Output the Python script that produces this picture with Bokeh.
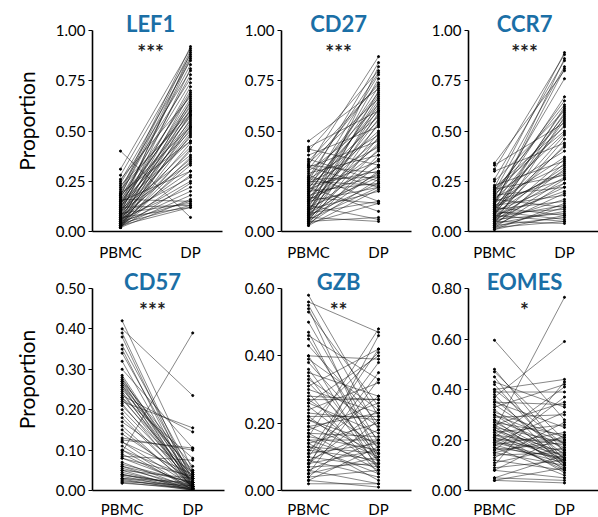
from bokeh.plotting import figure
from bokeh.layouts import gridplot
from bokeh.models import Range1d, FixedTicker, Label, NumeralTickFormatter
from bokeh.embed import file_html
from bokeh.resources import INLINE

groups = ["PBMC", "DP"]

lef1_pbmc = [0.40, 0.31, 0.28, 0.25, 0.24, 0.22, 0.20, 0.19, 0.18, 0.18, 0.17, 0.17, 0.16, 0.16, 0.15, 0.15,
             0.14, 0.14, 0.13, 0.13, 0.12, 0.12, 0.12, 0.11, 0.11, 0.10, 0.10, 0.10, 0.09, 0.09, 0.09, 0.09,
             0.08, 0.08, 0.08, 0.07, 0.07, 0.07, 0.07, 0.06, 0.06, 0.06, 0.06, 0.05, 0.05, 0.05, 0.05, 0.05,
             0.04, 0.04, 0.04, 0.04, 0.04, 0.03, 0.03, 0.03, 0.03, 0.03, 0.03, 0.02, 0.02, 0.02, 0.02, 0.02,
             0.21, 0.19, 0.23, 0.26, 0.11, 0.13, 0.15, 0.18]
lef1_dp = [0.07, 0.91, 0.88, 0.85, 0.80, 0.76, 0.92, 0.90, 0.87, 0.83, 0.74, 0.68, 0.62, 0.15, 0.78, 0.57,
           0.64, 0.50, 0.70, 0.45, 0.66, 0.55, 0.13, 0.60, 0.38, 0.72, 0.52, 0.34, 0.81, 0.63, 0.47, 0.14,
           0.58, 0.42, 0.27, 0.69, 0.54, 0.36, 0.12, 0.61, 0.49, 0.30, 0.22, 0.65, 0.51, 0.40, 0.25, 0.15,
           0.59, 0.44, 0.33, 0.20, 0.13, 0.56, 0.48, 0.37, 0.28, 0.18, 0.12, 0.53, 0.41, 0.24, 0.16, 0.35,
           0.60, 0.45, 0.58, 0.67, 0.89, 0.86, 0.30, 0.52]

cd27_pbmc = [0.45, 0.42, 0.41, 0.40, 0.38, 0.36, 0.34, 0.33, 0.33, 0.32, 0.32, 0.31, 0.30, 0.29, 0.28, 0.27,
             0.26, 0.26, 0.25, 0.25, 0.24, 0.24, 0.23, 0.22, 0.22, 0.21, 0.21, 0.20, 0.20, 0.19, 0.18, 0.18,
             0.17, 0.17, 0.16, 0.16, 0.15, 0.15, 0.14, 0.14, 0.13, 0.13, 0.12, 0.12, 0.11, 0.11, 0.10, 0.10,
             0.09, 0.09, 0.09, 0.08, 0.08, 0.08, 0.07, 0.07, 0.07, 0.06, 0.06, 0.06, 0.05, 0.05, 0.05, 0.04,
             0.04, 0.04, 0.03, 0.03, 0.27, 0.19, 0.23, 0.35, 0.11, 0.15]
cd27_dp = [0.71, 0.60, 0.33, 0.80, 0.52, 0.25, 0.66, 0.87, 0.29, 0.45, 0.22, 0.74, 0.57, 0.38, 0.15, 0.63,
           0.48, 0.27, 0.84, 0.23, 0.69, 0.42, 0.30, 0.55, 0.10, 0.78, 0.35, 0.62, 0.24, 0.50, 0.72, 0.28,
           0.46, 0.14, 0.65, 0.32, 0.58, 0.22, 0.76, 0.40, 0.53, 0.06, 0.67, 0.27, 0.44, 0.20, 0.61, 0.36,
           0.82, 0.29, 0.15, 0.70, 0.49, 0.24, 0.59, 0.33, 0.05, 0.64, 0.41, 0.22, 0.54, 0.30, 0.07, 0.47,
           0.26, 0.14, 0.38, 0.21, 0.79, 0.68, 0.60, 0.73, 0.56, 0.43]

ccr7_pbmc = [0.34, 0.33, 0.31, 0.30, 0.26, 0.25, 0.23, 0.22, 0.22, 0.21, 0.20, 0.20, 0.19, 0.18, 0.18, 0.17,
             0.17, 0.16, 0.16, 0.15, 0.15, 0.14, 0.14, 0.13, 0.13, 0.12, 0.12, 0.12, 0.11, 0.11, 0.11, 0.10,
             0.10, 0.10, 0.09, 0.09, 0.09, 0.08, 0.08, 0.08, 0.07, 0.07, 0.07, 0.06, 0.06, 0.06, 0.05, 0.05,
             0.05, 0.04, 0.04, 0.04, 0.03, 0.03, 0.03, 0.02, 0.02, 0.02, 0.01, 0.01, 0.14, 0.19, 0.21, 0.06,
             0.13, 0.09]
ccr7_dp = [0.80, 0.54, 0.88, 0.44, 0.85, 0.60, 0.35, 0.89, 0.52, 0.28, 0.82, 0.63, 0.40, 0.56, 0.22, 0.76,
           0.33, 0.49, 0.12, 0.67, 0.26, 0.58, 0.37, 0.86, 0.18, 0.53, 0.30, 0.08, 0.61, 0.42, 0.15, 0.55,
           0.24, 0.06, 0.48, 0.32, 0.11, 0.59, 0.20, 0.05, 0.43, 0.27, 0.13, 0.36, 0.09, 0.22, 0.31, 0.16,
           0.04, 0.26, 0.10, 0.57, 0.19, 0.07, 0.34, 0.12, 0.05, 0.24, 0.08, 0.14, 0.81, 0.65, 0.50, 0.46,
           0.29, 0.62]

cd57_pbmc = [0.42, 0.40, 0.39, 0.38, 0.36, 0.35, 0.34, 0.32, 0.30, 0.285, 0.28, 0.275, 0.27, 0.265, 0.26, 0.255,
             0.25, 0.245, 0.24, 0.235, 0.23, 0.225, 0.22, 0.215, 0.20, 0.18, 0.17, 0.16, 0.14, 0.13, 0.125, 0.12,
             0.11, 0.10, 0.095, 0.09, 0.085, 0.08, 0.07, 0.065, 0.06, 0.055, 0.05, 0.045, 0.04, 0.038, 0.035, 0.03,
             0.028, 0.025, 0.022, 0.02, 0.018, 0.27, 0.26, 0.23, 0.21, 0.19, 0.15, 0.12, 0.10, 0.08, 0.06, 0.05,
             0.04, 0.03]
cd57_dp = [0.05, 0.235, 0.02, 0.01, 0.04, 0.005, 0.03, 0.01, 0.105, 0.02, 0.005, 0.04, 0.01, 0.03, 0.0, 0.015,
           0.05, 0.005, 0.02, 0.145, 0.01, 0.035, 0.155, 0.005, 0.02, 0.01, 0.045, 0.003, 0.025, 0.10, 0.105, 0.01,
           0.002, 0.03, 0.39, 0.008, 0.075, 0.015, 0.004, 0.02, 0.001, 0.01, 0.03, 0.005, 0.002, 0.015, 0.001, 0.008,
           0.0, 0.004, 0.012, 0.002, 0.006, 0.06, 0.045, 0.08, 0.03, 0.005, 0.01, 0.04, 0.001, 0.035, 0.02, 0.0,
           0.01, 0.02]

gzb_pbmc = [0.58, 0.56, 0.55, 0.54, 0.53, 0.50, 0.47, 0.46, 0.45, 0.43, 0.40, 0.40, 0.39, 0.38, 0.35, 0.34,
            0.33, 0.32, 0.31, 0.30, 0.29, 0.28, 0.27, 0.27, 0.26, 0.25, 0.24, 0.23, 0.22, 0.22, 0.21, 0.20,
            0.19, 0.18, 0.17, 0.17, 0.16, 0.16, 0.15, 0.15, 0.14, 0.13, 0.13, 0.12, 0.12, 0.11, 0.10, 0.10,
            0.09, 0.09, 0.08, 0.08, 0.07, 0.07, 0.06, 0.06, 0.05, 0.05, 0.04, 0.04, 0.03, 0.03, 0.02, 0.36,
            0.26, 0.19, 0.11, 0.14, 0.08, 0.21]
gzb_dp = [0.22, 0.47, 0.18, 0.09, 0.25, 0.14, 0.08, 0.33, 0.12, 0.20, 0.39, 0.06, 0.24, 0.15, 0.28, 0.07,
          0.19, 0.11, 0.42, 0.23, 0.05, 0.27, 0.27, 0.13, 0.17, 0.09, 0.32, 0.21, 0.22, 0.07, 0.14, 0.41,
          0.10, 0.26, 0.16, 0.06, 0.12, 0.48, 0.15, 0.08, 0.20, 0.05, 0.11, 0.28, 0.09, 0.14, 0.07, 0.38,
          0.18, 0.04, 0.12, 0.24, 0.08, 0.46, 0.15, 0.02, 0.10, 0.33, 0.06, 0.21, 0.01, 0.13, 0.02, 0.09,
          0.40, 0.23, 0.42, 0.03, 0.35, 0.11]

eomes_pbmc = [0.595, 0.48, 0.47, 0.45, 0.43, 0.42, 0.40, 0.40, 0.39, 0.38, 0.37, 0.36, 0.35, 0.34, 0.33, 0.32,
              0.31, 0.30, 0.29, 0.28, 0.28, 0.27, 0.26, 0.26, 0.25, 0.25, 0.24, 0.24, 0.23, 0.23, 0.22, 0.22,
              0.21, 0.21, 0.20, 0.20, 0.19, 0.19, 0.18, 0.18, 0.17, 0.17, 0.16, 0.16, 0.15, 0.14, 0.13, 0.12,
              0.11, 0.10, 0.09, 0.08, 0.08, 0.05, 0.05, 0.04, 0.04, 0.27, 0.30, 0.24, 0.21, 0.19, 0.35, 0.15]
eomes_dp = [0.28, 0.15, 0.20, 0.10, 0.33, 0.12, 0.44, 0.18, 0.39, 0.09, 0.59, 0.14, 0.25, 0.16, 0.42, 0.11,
            0.21, 0.13, 0.30, 0.17, 0.08, 0.22, 0.12, 0.35, 0.19, 0.10, 0.765, 0.15, 0.26, 0.07, 0.18, 0.12,
            0.41, 0.14, 0.20, 0.09, 0.16, 0.31, 0.11, 0.23, 0.13, 0.06, 0.19, 0.37, 0.10, 0.15, 0.27, 0.08,
            0.17, 0.43, 0.12, 0.05, 0.22, 0.14, 0.04, 0.03, 0.09, 0.13, 0.19, 0.11, 0.08, 0.12, 0.34, 0.21]

panel_names = ["LEF1", "CD27", "CCR7", "CD57", "GZB", "EOMES"]
panel_stars = ["***", "***", "***", "***", "**", "*"]
top_ticks = [0, 0.25, 0.5, 0.75, 1.0]
cd57_ticks = [0, 0.1, 0.2, 0.3, 0.4, 0.5]
gzb_ticks = [0, 0.2, 0.4, 0.6]
eomes_ticks = [0, 0.2, 0.4, 0.6, 0.8]

FONT = "Lato"
TITLE_COLOR = "#1b6fa6"


def panel(name, stars, pbmc, dp, ticks, fw, axis_px, extra_px, bl, br, bt, bb, xr,
          ylabel=None, xstand=10):
    ymax = ticks[-1]
    fh = axis_px + extra_px
    ytop = ymax * fh / axis_px
    p = figure(title=None, frame_width=fw, frame_height=fh, min_border_left=bl, min_border_right=br,
               min_border_top=bt, min_border_bottom=bb, x_range=Range1d(*xr),
               y_range=Range1d(0, ytop), output_backend="svg", toolbar_location=None)
    p.outline_line_color = None
    p.grid.visible = False
    xp = groups.index("PBMC") + 1
    xd = groups.index("DP") + 1
    xs = [[xp, xd] for _ in pbmc]
    ys = [[a, b] for a, b in zip(pbmc, dp)]
    p.multi_line(xs, ys, line_color="#111111", line_width=0.6, line_alpha=0.85)
    p.scatter([xp] * len(pbmc), pbmc, size=2.1, color="black")
    p.scatter([xd] * len(dp), dp, size=2.1, color="black")

    xa = p.xaxis[0]
    xa.ticker = FixedTicker(ticks=[xp, xd], minor_ticks=[])
    xa.major_label_overrides = {xp: groups[0], xd: groups[1]}
    xa.major_tick_in = 0
    xa.major_tick_out = 0
    xa.minor_tick_in = 0
    xa.minor_tick_out = 0
    xa.axis_line_width = 1.6
    xa.major_label_standoff = xstand
    xa.major_label_text_font = FONT
    xa.major_label_text_font_size = "15px"
    xa.major_label_text_color = "black"

    ya = p.yaxis[0]
    ya.bounds = (0, ymax)
    ya.ticker = FixedTicker(ticks=ticks, minor_ticks=[])
    ya.formatter = NumeralTickFormatter(format="0.00")
    ya.major_tick_in = 0
    ya.major_tick_out = 4
    ya.minor_tick_in = 0
    ya.minor_tick_out = 0
    ya.axis_line_width = 1.6
    ya.major_tick_line_width = 1.2
    ya.major_label_standoff = 3
    ya.major_label_text_font = FONT
    ya.major_label_text_font_size = "15px"
    ya.major_label_text_color = "black"
    if ylabel:
        ya.axis_label = ylabel
        ya.axis_label_text_font = FONT
        ya.axis_label_text_font_size = "21px"
        ya.axis_label_text_font_style = "normal"
        ya.axis_label_text_color = "black"
        ya.axis_label_standoff = 14

    p.add_layout(Label(x=1.43, y=1.035 * ymax, text=name, text_align="center",
                       text_baseline="middle", text_font=FONT, text_font_size="22px",
                       text_font_style="bold", text_color=TITLE_COLOR))
    p.add_layout(Label(x=1.43, y=0.895 * ymax, text=stars, text_align="center",
                       text_baseline="middle", text_font=FONT, text_font_size="21px",
                       text_font_style="bold", text_color="#222222"))
    return p


p1 = panel(panel_names[0], panel_stars[0], lef1_pbmc, lef1_dp, top_ticks, 130, 201, 20, 92, 13, 10, 33,
           (0.6, 2.457), "Proportion", xstand=11)
p2 = panel(panel_names[1], panel_stars[1], cd27_pbmc, cd27_dp, top_ticks, 130, 201, 20, 46, 9, 10, 33,
           (0.614, 2.471), xstand=11)
p3 = panel(panel_names[2], panel_stars[2], ccr7_pbmc, ccr7_dp, top_ticks, 130, 201, 20, 48, 0, 10, 33,
           (0.629, 2.486), xstand=11)
p4 = panel(panel_names[3], panel_stars[3], cd57_pbmc, cd57_dp, cd57_ticks, 132, 202, 20, 90, 13, 4, 27,
           (0.58, 2.45), "Proportion", xstand=9)
p5 = panel(panel_names[4], panel_stars[4], gzb_pbmc, gzb_dp, gzb_ticks, 130, 202, 20, 46, 9, 4, 27,
           (0.614, 2.471), xstand=9)
p6 = panel(panel_names[5], panel_stars[5], eomes_pbmc, eomes_dp, eomes_ticks, 130, 202, 20, 48, 0, 4, 27,
           (0.629, 2.486), xstand=9)

grid = gridplot([[p1, p2, p3], [p4, p5, p6]], toolbar_location=None)

open("out.html", "w").write(file_html(grid, INLINE))
